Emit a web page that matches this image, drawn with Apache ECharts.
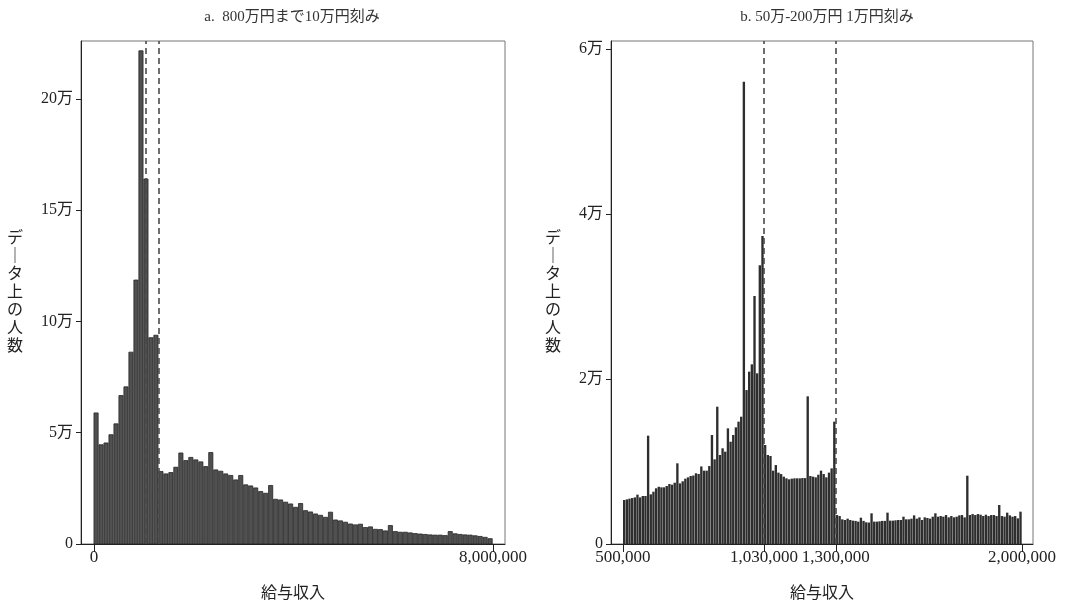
<!DOCTYPE html>
<html>
<head>
<meta charset="utf-8">
<script src="https://cdn.jsdelivr.net/npm/echarts@6/dist/echarts.min.js"></script>
<style>
  html, body { margin: 0; padding: 0; background: #fff; }
  #chart { width: 1065px; height: 607px; }
</style>
</head>
<body>
<div id="chart"></div>
<script>
// a. 0 - 800万円, 10万円刻み (80 bins)
const leftStart = 0;
const leftBin = 100000;
const leftCounts = [
  58900, 44600, 45400, 49100, 54000, 66700, 70600, 86200, 118600, 221600,
  164000, 92700, 93800, 32600, 31500, 32100, 34500, 40900, 37500, 38900,
  37800, 36900, 34800, 41100, 33300, 32700, 31500, 30800, 28800, 30800,
  26600, 26100, 25200, 23600, 22800, 26300, 20100, 19800, 18800, 18000,
  16500, 18200, 15000, 14400, 13500, 12900, 12000, 14300, 10800, 10400,
  9800, 9000, 8600, 8900, 7400, 7700, 6600, 6500, 5900, 8300,
  5600, 5300, 5300, 5000, 4700, 4500, 4300, 4100, 4000, 4000,
  3800, 5600, 4600, 4300, 4100, 4000, 3700, 3400, 3000, 2400
];

// b. 50万 - 200万円, 1万円刻み (150 bins)
const rightStart = 500000;
const rightBin = 10000;
const rightCounts = [
  5330, 5410, 5500, 5570, 5650, 5980, 5650, 5820, 5820, 13130,
  6020, 6340, 6750, 6940, 6870, 6870, 7030, 7270, 7190, 7430,
  9780, 7350, 7600, 7920, 8080, 8240, 8300, 8570, 8490, 9400,
  8890, 8890, 9450, 13210, 10260, 16640, 10790, 11600, 11190, 14020,
  12400, 13210, 14140, 14830, 15430, 56030, 18660, 20890, 21780, 30060,
  20690, 33800, 37330, 12000, 10790, 10670, 8890, 9570, 8650, 8480,
  8160, 7960, 7840, 7920, 7960, 7960, 7960, 7990, 7990, 17900,
  8240, 8160, 8080, 8400, 8890, 8480, 8080, 8650, 9170, 14830,
  3510, 3390, 2990, 2910, 3070, 2910, 2830, 2800, 2710, 3190,
  2800, 2630, 2600, 3720, 2710, 2710, 2750, 2800, 2800, 3800,
  2830, 2830, 2870, 2910, 2910, 3310, 2990, 2990, 3070, 3470,
  3070, 3230, 2910, 3230, 3150, 3070, 3310, 3720, 3310, 3390,
  3310, 3510, 3230, 3390, 3230, 3310, 3470, 3510, 3230, 8280,
  3510, 3630, 3510, 3630, 3550, 3390, 3550, 3390, 3510, 3510,
  3390, 4730, 3390, 3310, 3800, 3470, 3310, 3390, 3110, 3920
];

const leftXLabels = [0, 8000000];
const rightXLabels = [500000, 1030000, 1300000, 2000000];
const leftYTicks = [0, 50000, 100000, 150000, 200000];
const rightYTicks = [0, 20000, 40000, 60000];
const cutoffs = [1030000, 1300000];

const fontFam = "'Liberation Serif', 'Noto Sans CJK JP', serif";

function toBins(start, width, counts) {
    return counts.map((v, i) => [start + i * width, start + (i + 1) * width, v]);
}

function manYen(v) {
    return v === 0 ? '0' : (v / 10000) + '万';
}

function histSeries(idx, data, gap, fill, stroke) {
    return {
        type: 'custom',
        xAxisIndex: idx,
        yAxisIndex: idx,
        data: data,
        encode: { x: [0, 1], y: 2 },
        renderItem: function (params, api) {
            const p0 = api.coord([api.value(0), api.value(2)]);
            const p1 = api.coord([api.value(1), 0]);
            return {
                type: 'rect',
                shape: { x: p0[0], y: p0[1], width: p1[0] - p0[0] - gap, height: p1[1] - p0[1] },
                style: { fill: fill, stroke: stroke, lineWidth: stroke ? 0.8 : 0 }
            };
        }
    };
}

function cutSeries(idx) {
    return {
        type: 'line',
        xAxisIndex: idx,
        yAxisIndex: idx,
        data: [],
        markLine: {
            silent: true,
            symbol: 'none',
            label: { show: false },
            lineStyle: { type: [6, 4], color: '#4a4a4a', width: 1.6 },
            data: cutoffs.map(c => ({ xAxis: c }))
        }
    };
}

// 縦書きの軸名（長音記号は縦棒で）
const yName = ['デ', '｜', 'タ', '上', 'の', '人', '数'].join('\n');

function xAxisOpt(idx, min, max, labels) {
    return {
        type: 'value',
        gridIndex: idx,
        min: min,
        max: max,
        name: '給与収入',
        nameLocation: 'middle',
        nameGap: 42,
        nameTextStyle: { fontFamily: fontFam, fontSize: 16, color: '#222' },
        splitLine: { show: false },
        axisLine: { show: true, onZero: false, lineStyle: { color: '#222', width: 1 } },
        axisTick: { show: true, length: 8, customValues: labels, lineStyle: { color: '#222' } },
        axisLabel: {
            customValues: labels,
            fontFamily: fontFam, fontSize: 17, color: '#222', margin: 5,
            formatter: v => v.toLocaleString('en-US')
        }
    };
}

function yAxisOpt(idx, max, ticks, gap) {
    return {
        type: 'value',
        gridIndex: idx,
        min: 0,
        max: max,
        name: yName,
        nameLocation: 'middle',
        nameRotate: 0,
        nameGap: gap,
        nameTextStyle: { fontFamily: fontFam, fontSize: 16, color: '#222', lineHeight: 18 },
        splitLine: { show: false },
        axisLine: { show: true, onZero: false, lineStyle: { color: '#222', width: 1 } },
        axisTick: { show: true, length: 5, customValues: ticks, lineStyle: { color: '#222' } },
        axisLabel: {
            customValues: ticks,
            fontFamily: fontFam, fontSize: 16, color: '#222', margin: 8,
            formatter: manYen
        }
    };
}

const chart = echarts.init(document.getElementById('chart'));
chart.setOption({
    animation: false,
    backgroundColor: '#fff',
    title: [
        { text: 'a.  800万円まで10万円刻み', left: 287, top: 5, textAlign: 'center',
          textStyle: { fontFamily: fontFam, fontSize: 15, fontWeight: 'normal', color: '#333' } },
        { text: 'b. 50万-200万円 1万円刻み', left: 822, top: 5, textAlign: 'center',
          textStyle: { fontFamily: fontFam, fontSize: 15, fontWeight: 'normal', color: '#333' } }
    ],
    grid: [
        { left: 81, top: 41, width: 424, height: 503, show: true, borderColor: '#777', borderWidth: 1 },
        { left: 611, top: 41, width: 422, height: 503, show: true, borderColor: '#777', borderWidth: 1 }
    ],
    xAxis: [
        xAxisOpt(0, -260000, 8240000, leftXLabels),
        xAxisOpt(1, 454900, 2041400, rightXLabels)
    ],
    yAxis: [
        yAxisOpt(0, 226000, leftYTicks, 58),
        yAxisOpt(1, 60970, rightYTicks, 50)
    ],
    series: [
        histSeries(0, toBins(leftStart, leftBin, leftCounts), 0.8, '#505050', '#262626'),
        histSeries(1, toBins(rightStart, rightBin, rightCounts), 0.3, '#2e2e2e', null),
        cutSeries(0),
        cutSeries(1)
    ]
});
</script>
</body>
</html>
